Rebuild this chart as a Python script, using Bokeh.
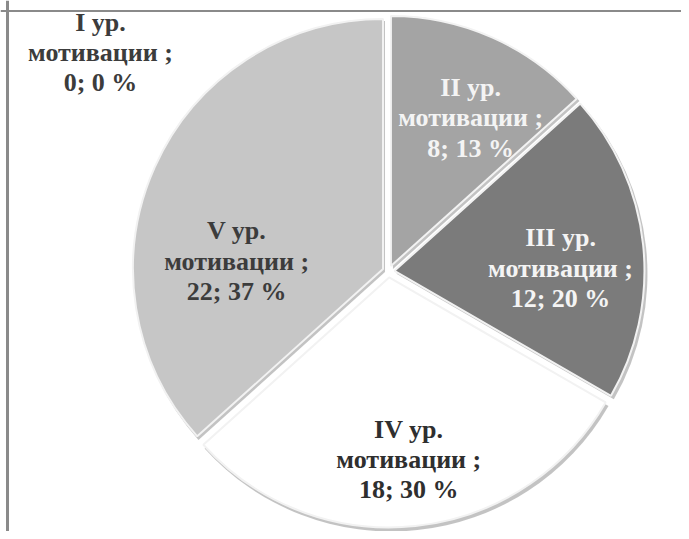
import numpy as np
from bokeh.plotting import figure
from bokeh.models import ColumnDataSource, Span, Range1d
from bokeh.core.properties import value
from bokeh.embed import file_html
from bokeh.resources import INLINE

# ---- data ----
levels = ["I", "II", "III", "IV", "V"]
counts = [0, 8, 12, 18, 22]
unit_label = "ур."
caption = "мотивации ;"

# ---- style ----
slice_colors = ["#d0d0d0", "#a4a4a4", "#7b7b7b", "#ffffff", "#c6c6c6"]
label_colors = ["#3c3c3c", "#f4f4f4", "#f4f4f4", "#2f2f2f", "#3c3c3c"]
label_dx = [-288, 11, -2, 2, 8]      # screen px
label_dy = [-44, 6, 15, 14, 61]      # screen px (down positive)

W, H = 681, 531
cx, cy, R, explode = 388, 260, 250, 6

total = sum(counts)
frac = np.array(counts, dtype=float) / total
cum = np.concatenate([[0.0], np.cumsum(frac)]) * 2 * np.pi
start_cw, end_cw = cum[:-1], cum[1:]
mid_cw = (start_cw + end_cw) / 2

pcts = [int(round(f * 100)) for f in frac]
labels = [f"{lv} {unit_label}\n{caption}\n{c}; {pc} %" for lv, c, pc in zip(levels, counts, pcts)]

sx = cx + explode * np.sin(mid_cw)
sy = cy + explode * np.cos(mid_cw)

keep = [i for i, c in enumerate(counts) if c > 0]
wsrc = ColumnDataSource(dict(
    x=[sx[i] for i in keep],
    y=[sy[i] for i in keep],
    xs=[sx[i] + 2 for i in keep],
    ys=[sy[i] - 3 for i in keep],
    start=[np.pi / 2 - start_cw[i] for i in keep],
    end=[np.pi / 2 - end_cw[i] for i in keep],
    color=[slice_colors[i] for i in keep],
))

lsrc = ColumnDataSource(dict(
    x=cx + 0.7 * R * np.sin(mid_cw),
    y=cy + 0.7 * R * np.cos(mid_cw),
    text=labels,
    color=label_colors,
    dx=label_dx,
    dy=label_dy,
))

p = figure(width=W, height=H, x_range=Range1d(0, W), y_range=Range1d(0, H),
           output_backend="svg", toolbar_location=None, min_border=0,
           x_axis_type=None, y_axis_type=None)
p.outline_line_color = None
p.background_fill_color = "white"
p.border_fill_color = "white"

# shadow
p.wedge(x="xs", y="ys", radius=R + 1, start_angle="start", end_angle="end",
        direction="clock", fill_color="#7a7a7a", fill_alpha=0.45, line_color=None,
        source=wsrc)
# slices
p.wedge(x="x", y="y", radius=R, start_angle="start", end_angle="end",
        direction="clock", fill_color="color", line_color="#f2f2f2", line_width=2,
        source=wsrc)

p.text(x="x", y="y", text="text", x_offset="dx", y_offset="dy",
       text_color="color", text_font=value("Liberation Serif"),
       text_font_style="bold", text_font_size="26px", text_align="center",
       text_baseline="middle", text_line_height=1.05, source=lsrc)

# frame (top and left edges)
p.add_layout(Span(location=H - 10.5, dimension="width", line_color="#8a8a8a", line_width=2))
p.add_layout(Span(location=7, dimension="height", line_color="#8a8a8a", line_width=3))

open("out.html", "w").write(file_html(p, INLINE))
